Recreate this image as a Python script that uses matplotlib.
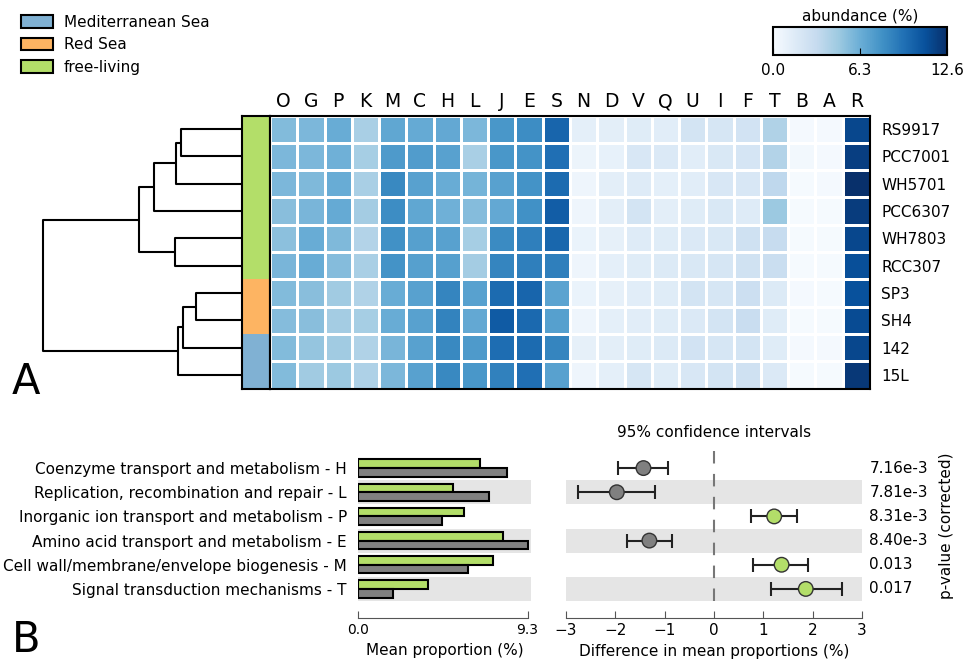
import numpy as np
import matplotlib
matplotlib.use('Agg')
import matplotlib.pyplot as plt
from matplotlib.patches import Patch
from matplotlib.colors import ListedColormap

W, H = 967, 661

cols = ['O', 'G', 'P', 'K', 'M', 'C', 'H', 'L', 'J', 'E', 'S',
        'N', 'D', 'V', 'Q', 'U', 'I', 'F', 'T', 'B', 'A', 'R']
strains = ['RS9917', 'PCC7001', 'WH5701', 'PCC6307', 'WH7803', 'RCC307',
           'SP3', 'SH4', '142', '15L']
groups = ['free-living'] * 6 + ['Red Sea'] * 2 + ['Mediterranean Sea'] * 2
group_names = ['Mediterranean Sea', 'Red Sea', 'free-living']
group_colors = ['#80b1d3', '#fdb462', '#b3de69']

# abundance (%) per strain (rows) and COG category (cols)
abund = np.array([
    [5.6, 5.8, 6.4, 4.3, 6.7, 6.5, 6.6, 5.8, 7.6, 8.1, 10.0, 1.2, 1.3, 1.5, 1.4, 2.3, 2.1, 2.4, 4.0, 0.2, 0.2, 11.5],
    [5.8, 5.8, 6.2, 4.4, 7.4, 7.3, 7.0, 4.3, 7.6, 7.8, 9.5, 0.7, 1.0, 2.0, 1.8, 1.4, 1.9, 2.2, 3.9, 0.3, 0.2, 11.9],
    [5.8, 5.7, 6.4, 4.3, 8.3, 7.0, 6.4, 6.0, 7.0, 7.8, 9.7, 0.6, 1.3, 1.6, 1.2, 1.4, 2.0, 2.0, 3.4, 0.1, 0.2, 12.6],
    [5.4, 5.9, 6.5, 4.5, 8.1, 6.7, 6.2, 5.5, 6.6, 7.9, 10.4, 0.6, 1.3, 2.3, 1.3, 1.5, 1.9, 1.6, 4.8, 0.1, 0.1, 12.0],
    [5.3, 6.4, 5.7, 3.9, 7.9, 7.1, 7.0, 4.4, 8.2, 8.8, 9.9, 0.8, 1.1, 1.6, 1.5, 1.8, 1.9, 2.6, 3.1, 0.1, 0.1, 11.5],
    [5.9, 6.4, 5.5, 4.3, 7.8, 7.1, 7.1, 4.5, 8.5, 8.8, 8.8, 0.6, 1.2, 1.5, 1.7, 1.9, 2.1, 2.5, 2.9, 0.1, 0.1, 11.1],
    [5.6, 5.4, 4.6, 4.0, 6.4, 7.0, 8.5, 7.0, 9.7, 10.0, 6.9, 0.8, 1.1, 1.4, 1.5, 2.3, 2.1, 2.8, 1.7, 0.2, 0.1, 11.0],
    [5.5, 5.4, 4.5, 4.4, 6.4, 7.0, 8.6, 6.6, 10.5, 9.8, 7.1, 0.6, 1.2, 1.4, 1.5, 1.8, 2.3, 3.0, 1.5, 0.1, 0.1, 11.3],
    [5.6, 5.0, 4.6, 4.0, 5.9, 7.0, 8.3, 7.4, 9.6, 9.7, 8.5, 1.1, 1.3, 1.5, 1.7, 2.4, 2.1, 2.3, 1.5, 0.2, 0.2, 11.5],
    [5.6, 4.6, 4.8, 4.1, 5.8, 7.0, 8.3, 7.6, 8.7, 9.5, 7.0, 0.6, 1.2, 2.1, 1.5, 2.0, 2.3, 2.6, 1.8, 0.1, 0.1, 12.2],
])
vmax = 12.6

# dendrogram merges: (child a, child b, height); new clusters get ids 10, 11, ...
linkage = [(0, 1, 0.307), (10, 2, 0.332), (11, 3, 0.442), (4, 5, 0.337),
           (12, 13, 0.518), (6, 7, 0.231), (15, 8, 0.296), (16, 9, 0.322),
           (14, 17, 1.0)]

# panel B
categories = ['Coenzyme transport and metabolism - H',
              'Replication, recombination and repair - L',
              'Inorganic ion transport and metabolism - P',
              'Amino acid transport and metabolism - E',
              'Cell wall/membrane/envelope biogenesis - M',
              'Signal transduction mechanisms - T']
prop_green = [6.69, 5.21, 5.81, 7.95, 7.41, 3.82]
prop_grey = [8.15, 7.21, 4.60, 9.32, 6.04, 1.91]
diff = [-1.43, -1.97, 1.22, -1.31, 1.37, 1.86]
ci_low = [-1.94, -2.75, 0.75, -1.77, 0.80, 1.15]
ci_high = [-0.94, -1.20, 1.68, -0.85, 1.90, 2.59]
pvals = ['7.16e-3', '7.81e-3', '8.31e-3', '8.40e-3', '0.013', '0.017']

green = '#b3de69'
grey = '#808080'
band = '#e5e5e5'
fs = 11


def px_axes(fig, x0, y0, x1, y1):
    return fig.add_axes([x0 / W, 1 - y1 / H, (x1 - x0) / W, (y1 - y0) / H])


fig = plt.figure(figsize=(W / 100, H / 100), dpi=100)

top, bot = 115.5, 388.5

## dendrogram
axd = px_axes(fig, 43, top, 242, bot)
pos = {i: (float(i), 0.0) for i in range(len(strains))}
for k, (a, b, h) in enumerate(linkage):
    ya, ha = pos[a]
    yb, hb = pos[b]
    axd.plot([ha, h, h, hb], [ya, ya, yb, yb], color='black', lw=1.5,
             solid_capstyle='butt', clip_on=False)
    pos[len(strains) + k] = ((ya + yb) / 2, h)
axd.set_xlim(1.0, 0.0)
axd.set_ylim(len(strains) - 0.5, -0.5)
axd.axis('off')

## group strip
axs = px_axes(fig, 242, top, 270, bot)
gidx = np.array([[group_names.index(g)] for g in groups])
axs.pcolormesh(gidx, cmap=ListedColormap(group_colors), vmin=-0.5, vmax=2.5)
axs.set_ylim(len(strains), 0)
axs.set_xticks([])
axs.set_yticks([])
for sp in axs.spines.values():
    sp.set_linewidth(1.5)

## heatmap
axh = px_axes(fig, 270, top, 870, bot)
mesh = axh.pcolormesh(abund, cmap='Blues', vmin=0, vmax=vmax,
                      edgecolors='white', linewidth=2)
axh.set_ylim(len(strains), 0)
axh.set_xlim(0, len(cols))
axh.xaxis.tick_top()
axh.set_xticks(np.arange(len(cols)) + 0.5)
axh.set_xticklabels(cols, fontsize=13.5)
axh.yaxis.tick_right()
axh.set_yticks(np.arange(len(strains)) + 0.5)
axh.set_yticklabels(strains, fontsize=fs)
axh.tick_params(length=0, pad=3)
axh.tick_params(axis='y', pad=8)
for sp in axh.spines.values():
    sp.set_linewidth(1.5)

## colorbar
axc = px_axes(fig, 773, 27, 947, 55)
cb = fig.colorbar(mesh, cax=axc, orientation='horizontal')
cb.set_ticks([0, 6.3, 12.6])
cb.set_ticklabels(['0.0', '6.3', '12.6'])
cb.outline.set_linewidth(1.5)
axc.tick_params(direction='in', length=5, labelsize=fs, pad=6)
axc.set_title('abundance (%)', fontsize=fs, pad=5)

## legend
handles = [Patch(facecolor=c, edgecolor='black', lw=1.5, label=n)
           for n, c in zip(group_names, group_colors)]
fig.legend(handles=handles, loc='upper left', bbox_to_anchor=(7 / W, 1 - 1 / H),
           frameon=False, fontsize=fs, handlelength=2.1, handleheight=0.9,
           labelspacing=0.5, handletextpad=0.7)

fig.text(12 / W, 1 - 394 / H, 'A', fontsize=30)
fig.text(12 / W, 1 - 652 / H, 'B', fontsize=30)

## panel B: mean proportions
btop, bbot = 456, 601
n = len(categories)
y = np.arange(n)
axb = px_axes(fig, 358, btop, 531, bbot)
for i in range(1, n, 2):
    axb.axhspan(i - 0.5, i + 0.5, color=band, lw=0, zorder=0)
bh = 0.36
axb.barh(y - bh / 2, prop_green, height=bh, color=green, edgecolor='black', lw=1.5)
axb.barh(y + bh / 2, prop_grey, height=bh, color=grey, edgecolor='black', lw=1.5)
axb.set_ylim(n - 0.5, -0.5)
axb.set_xlim(0, 9.3 * 1.02)
axb.set_yticks(y)
axb.set_yticklabels(categories, fontsize=fs)
axb.tick_params(axis='y', length=0, pad=8)
axb.set_xticks([0, 9.3])
axb.set_xticklabels(['0.0', '9.3'], fontsize=fs)
axb.tick_params(axis='x', direction='in', length=5, color='#555555', pad=4)
for s in ['top', 'left', 'right']:
    axb.spines[s].set_visible(False)
axb.spines['bottom'].set_position(('outward', 12))
axb.spines['bottom'].set_bounds(0, 9.3)
axb.spines['bottom'].set_color('#555555')
axb.set_xlabel('Mean proportion (%)', fontsize=fs, labelpad=4)

## panel B: confidence intervals
axe = px_axes(fig, 566, btop, 862, bbot)
for i in range(1, n, 2):
    axe.axhspan(i - 0.5, i + 0.5, color=band, lw=0, zorder=0)
axe.axvline(0, ymin=-0.0, ymax=1.08, color='#777777', lw=1.5,
            dashes=(6, 5), clip_on=False, zorder=1)
xerr = [np.array(diff) - np.array(ci_low), np.array(ci_high) - np.array(diff)]
axe.errorbar(diff, y, xerr=xerr, fmt='none', ecolor='#222222', elinewidth=1.5,
             capsize=5, capthick=1.5, zorder=2)
pcol = [green if d > 0 else grey for d in diff]
axe.scatter(diff, y, s=110, c=pcol, edgecolors='#333333', linewidths=1, zorder=3)
axe.set_ylim(n - 0.5, -0.5)
axe.set_xlim(-3, 3)
axe.set_yticks([])
axe.set_xticks(range(-3, 4))
axe.tick_params(axis='x', direction='in', length=5, color='#555555', pad=4,
                labelsize=fs)
for s in ['top', 'left', 'right']:
    axe.spines[s].set_visible(False)
axe.spines['bottom'].set_position(('outward', 12))
axe.spines['bottom'].set_color('#555555')
axe.set_xlabel('Difference in mean proportions (%)', fontsize=fs, labelpad=4)
axe.set_title('95% confidence intervals', fontsize=fs, pad=14)
for i, p in enumerate(pvals):
    axe.text(1.025, i, p, transform=axe.get_yaxis_transform(), va='center',
             ha='left', fontsize=fs)
fig.text(946 / W, 1 - 526 / H, 'p-value (corrected)', rotation=90,
         ha='center', va='center', fontsize=fs)

plt.savefig('out.png', dpi=100)
